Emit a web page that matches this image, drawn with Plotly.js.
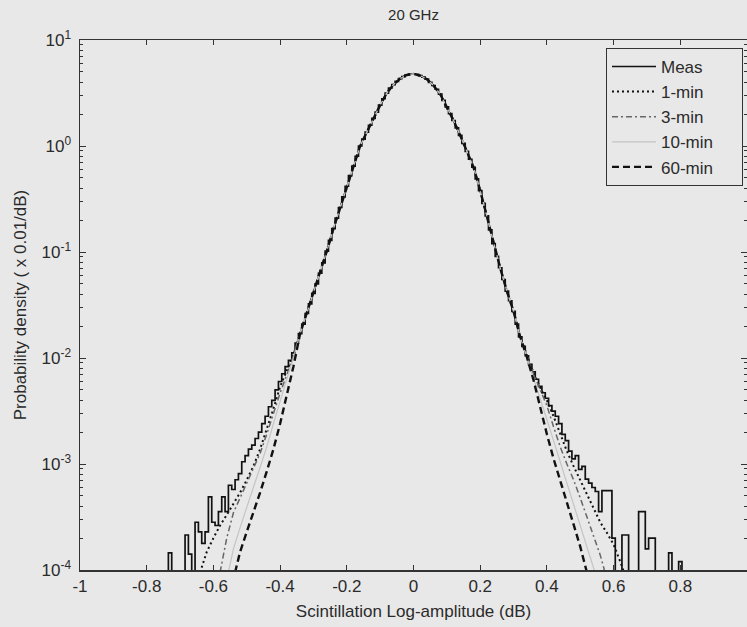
<!DOCTYPE html>
<html>
<head>
<meta charset="utf-8">
<script src="https://cdn.plot.ly/plotly-3.0.1.min.js"></script>
<style>
html,body{margin:0;padding:0;background:#e8e8e8;}
#chart{width:747px;height:627px;}
</style>
</head>
<body>
<div id="chart"></div>
<script>
// ---- Data (probability density, x0.01/dB) ----
// Measured histogram: bin centres (dB) and densities. 1e-6 marks an empty bin (drawn below the axis).
var measX = [-0.75,-0.74,-0.73,-0.72,-0.71,-0.70,-0.69,-0.68,-0.67,-0.66,-0.65,-0.64,-0.63,-0.62,-0.61,-0.60,-0.59,-0.58,-0.57,-0.56,-0.55,-0.54,-0.53,-0.52,-0.51,-0.50,-0.49,-0.48,-0.47,-0.46,-0.45,-0.44,-0.43,-0.42,-0.41,-0.40,-0.39,-0.38,-0.37,-0.36,-0.35,-0.34,-0.33,-0.32,-0.31,-0.30,-0.29,-0.28,-0.27,-0.26,-0.25,-0.24,-0.23,-0.22,-0.21,-0.20,-0.19,-0.18,-0.17,-0.16,-0.15,-0.14,-0.13,-0.12,-0.11,-0.10,-0.09,-0.08,-0.07,-0.06,-0.05,-0.04,-0.03,-0.02,-0.01,0.00,0.01,0.02,0.03,0.04,0.05,0.06,0.07,0.08,0.09,0.10,0.11,0.12,0.13,0.14,0.15,0.16,0.17,0.18,0.19,0.20,0.21,0.22,0.23,0.24,0.25,0.26,0.27,0.28,0.29,0.30,0.31,0.32,0.33,0.34,0.35,0.36,0.37,0.38,0.39,0.40,0.41,0.42,0.43,0.44,0.45,0.46,0.47,0.48,0.49,0.50,0.51,0.52,0.53,0.54,0.55,0.56,0.57,0.58,0.59,0.60,0.61,0.62,0.63,0.64,0.65,0.66,0.67,0.68,0.69,0.70,0.71,0.72,0.73,0.74,0.75,0.76,0.77,0.78,0.79,0.80,0.81];
var measY = [1e-6,1e-6,1.45e-4,1e-6,1e-6,1e-6,1e-6,2.14e-4,1.41e-4,1e-6,2.82e-4,2.29e-4,1.78e-4,2.29e-4,4.9e-4,2.82e-4,2.63e-4,3.55e-4,4.9e-4,3.55e-4,6.3e-4,5.75e-4,7.1e-4,8.1e-4,1.05e-3,1.2e-3,1.38e-3,1.51e-3,1.74e-3,2.0e-3,2.4e-3,2.82e-3,3.47e-3,3.98e-3,5.0e-3,6.0e-3,7.1e-3,8.3e-3,9.5e-3,1.12e-2,1.38e-2,1.70e-2,2.09e-2,2.63e-2,3.24e-2,4.07e-2,5.0e-2,6.3e-2,7.9e-2,0.102,0.129,0.166,0.209,0.263,0.331,0.417,0.525,0.646,0.80,1.0,1.16,1.35,1.57,1.82,2.09,2.43,2.79,3.16,3.51,3.80,4.07,4.32,4.52,4.68,4.76,4.79,4.75,4.62,4.47,4.27,3.98,3.72,3.43,3.09,2.69,2.34,2.02,1.74,1.48,1.26,1.06,0.89,0.75,0.63,0.49,0.38,0.288,0.219,0.162,0.120,0.091,0.071,0.055,0.0427,0.0347,0.0275,0.0209,0.0158,0.0129,0.0105,8.7e-3,7.4e-3,6.3e-3,5.4e-3,4.7e-3,4.17e-3,3.55e-3,3.16e-3,2.82e-3,2.4e-3,1.9e-3,1.66e-3,1.32e-3,1.12e-3,1.2e-3,8.9e-4,9.5e-4,7.2e-4,6.6e-4,6.0e-4,5.5e-4,3.55e-4,5.6e-4,5.6e-4,5.6e-4,2.0e-4,1e-6,1e-6,2.14e-4,2.14e-4,1e-6,1e-6,1e-6,3.55e-4,3.55e-4,1.58e-4,2.0e-4,2.0e-4,1e-6,1e-6,1e-6,1e-6,1.45e-4,1e-6,1e-6,1.2e-4,1e-6];

// Model curves: common core (all models overlap here) plus each model's own tails
var coreX = [-0.34,-0.32,-0.30,-0.28,-0.26,-0.24,-0.22,-0.20,-0.18,-0.16,-0.14,-0.12,-0.10,-0.08,-0.06,-0.04,-0.02,0.00,0.02,0.04,0.06,0.08,0.10,0.12,0.14,0.16,0.18,0.20,0.22,0.24,0.26,0.28,0.30,0.32];
var coreY = [1.70e-2,2.63e-2,4.07e-2,6.31e-2,0.102,0.166,0.263,0.417,0.646,1.00,1.35,1.82,2.43,3.16,3.80,4.32,4.68,4.79,4.62,4.27,3.72,3.09,2.34,1.74,1.26,0.891,0.631,0.380,0.219,0.120,0.0708,0.0427,0.0275,0.0158];

var min1LeftX  = [-0.64,-0.62,-0.60,-0.58,-0.56,-0.54,-0.52,-0.50,-0.48,-0.46,-0.44,-0.42,-0.40,-0.38,-0.36];
var min1LeftY  = [9.5e-5,1.48e-4,2.0e-4,2.63e-4,3.31e-4,4.17e-4,5.37e-4,7.08e-4,9.55e-4,1.38e-3,2.09e-3,3.31e-3,5.37e-3,7.59e-3,1.07e-2];
var min1RightX = [0.34,0.36,0.38,0.40,0.42,0.44,0.46,0.48,0.50,0.52,0.54,0.56,0.58,0.60,0.62,0.64];
var min1RightY = [1.05e-2,7.24e-3,5.25e-3,3.98e-3,2.82e-3,1.91e-3,1.32e-3,9.55e-4,7.08e-4,5.25e-4,3.80e-4,2.82e-4,2.24e-4,1.74e-4,1.20e-4,7.9e-5];

var min3LeftX  = [-0.58,-0.56,-0.54,-0.52,-0.50,-0.48,-0.46,-0.44,-0.42,-0.40,-0.38,-0.36];
var min3LeftY  = [9.5e-5,2.0e-4,3.47e-4,4.79e-4,6.61e-4,8.91e-4,1.26e-3,1.91e-3,3.02e-3,4.68e-3,6.92e-3,1.05e-2];
var min3RightX = [0.34,0.36,0.38,0.40,0.42,0.44,0.46,0.48,0.50,0.52,0.54,0.56,0.575];
var min3RightY = [1.05e-2,7.08e-3,5.01e-3,3.55e-3,2.24e-3,1.45e-3,1.0e-3,7.08e-4,4.79e-4,3.16e-4,2.09e-4,1.38e-4,9.3e-5];

var min10LeftX  = [-0.555,-0.54,-0.52,-0.50,-0.48,-0.46,-0.44,-0.42,-0.40,-0.38,-0.36];
var min10LeftY  = [9.5e-5,1.58e-4,2.51e-4,3.98e-4,6.03e-4,9.33e-4,1.45e-3,2.40e-3,3.98e-3,6.31e-3,1.0e-2];
var min10RightX = [0.34,0.36,0.38,0.40,0.42,0.44,0.46,0.48,0.50,0.52,0.545];
var min10RightY = [1.02e-2,6.61e-3,4.17e-3,2.63e-3,1.66e-3,1.05e-3,6.61e-4,4.17e-4,2.63e-4,1.66e-4,9.3e-5];

var min60LeftX  = [-0.535,-0.52,-0.50,-0.48,-0.46,-0.44,-0.42,-0.40,-0.38,-0.36];
var min60LeftY  = [9.5e-5,1.48e-4,2.29e-4,3.47e-4,5.37e-4,8.51e-4,1.38e-3,2.40e-3,4.37e-3,8.32e-3];
var min60RightX = [0.34,0.36,0.38,0.40,0.42,0.44,0.46,0.48,0.50,0.52];
var min60RightY = [1.02e-2,6.17e-3,3.39e-3,1.91e-3,1.12e-3,7.08e-4,4.37e-4,2.69e-4,1.66e-4,9.5e-5];

var seriesNames = ['Meas','1-min','3-min','10-min','60-min'];
var xTickVals = [-1,-0.8,-0.6,-0.4,-0.2,0,0.2,0.4,0.6,0.8];
var xTickText = ['-1','-0.8','-0.6','-0.4','-0.2','0','0.2','0.4','0.6','0.8'];
var yTickVals = [1e-4,1e-3,1e-2,1e-1,1,10];
var yTickText = ['10<sup>-4</sup>','10<sup>-3</sup>','10<sup>-2</sup>','10<sup>-1</sup>','10<sup>0</sup>','10<sup>1</sup>'];

// ---- Build traces ----
function model(lx, ly, rx, ry){
  return {x: lx.concat(coreX, rx), y: ly.concat(coreY, ry)};
}
var m1 = model(min1LeftX, min1LeftY, min1RightX, min1RightY);
var m3 = model(min3LeftX, min3LeftY, min3RightX, min3RightY);
var m10 = model(min10LeftX, min10LeftY, min10RightX, min10RightY);
var m60 = model(min60LeftX, min60LeftY, min60RightX, min60RightY);

// trailing no-break spaces only widen the legend box to the reference's size
var pad = '\u00a0\u00a0\u00a0\u00a0\u00a0';
var traces = [
  {x: measX, y: measY, name: seriesNames[0], mode: 'lines', line: {color: '#111', width: 1.7, shape: 'hvh'}},
  {x: m1.x, y: m1.y, name: seriesNames[1], mode: 'lines', line: {color: '#111', width: 2, dash: '2px,3px'}},
  {x: m3.x, y: m3.y, name: seriesNames[2], mode: 'lines', line: {color: '#666', width: 1.5, dash: '6px,3px,2px,3px'}},
  {x: m10.x, y: m10.y, name: seriesNames[3] + pad, mode: 'lines', line: {color: '#c4c4c4', width: 1.2}},
  {x: m60.x, y: m60.y, name: seriesNames[4], mode: 'lines', line: {color: '#111', width: 2.4, dash: '7px,4px'}}
];

var ink = '#2b2b2b';
var minorVals = [];
[1e-4,1e-3,1e-2,1e-1,1].forEach(function(d){ for (var k=2;k<=9;k++) minorVals.push(k*d); });

var layout = {
  width: 747, height: 627,
  paper_bgcolor: '#e8e8e8', plot_bgcolor: '#e8e8e8',
  margin: {l: 80, r: 0, t: 40, b: 57},
  font: {family: 'Liberation Sans, Arial, sans-serif', size: 17, color: ink},
  title: {text: '20 GHz', x: 0.5, xref: 'paper', y: 1 - 15/627, yref: 'container', yanchor: 'middle', font: {size: 15, color: ink}},
  showlegend: true,
  legend: {x: 0.994, xanchor: 'right', y: 0.985, yanchor: 'top', bgcolor: '#e8e8e8', bordercolor: '#333', borderwidth: 1, itemwidth: 44, font: {size: 17, color: ink}, tracegroupgap: 0},
  xaxis: {
    range: [-1, 1], showgrid: false, zeroline: false,
    showline: true, linecolor: '#333', linewidth: 1.5, mirror: 'ticks',
    ticks: 'inside', ticklen: 5, tickcolor: '#333', tickwidth: 1,
    tickmode: 'array', tickvals: xTickVals, ticktext: xTickText, tickfont: {size: 17},
    title: {text: 'Scintillation Log-amplitude (dB)', standoff: 10, font: {size: 17, color: ink}}
  },
  yaxis: {
    type: 'log', range: [-4, 1], showgrid: false, zeroline: false,
    showline: true, linecolor: '#333', linewidth: 1.5, mirror: 'ticks',
    ticks: 'inside', ticklen: 6, tickcolor: '#333', tickwidth: 1,
    tickmode: 'array', tickvals: yTickVals, ticktext: yTickText, tickfont: {size: 17},
    ticklabelstandoff: 4,
    minor: {tickmode: 'array', tickvals: minorVals, ticks: 'inside', ticklen: 3, tickcolor: '#333', showgrid: false},
    title: {text: 'Probability density ( x 0.01/dB)', standoff: 10, font: {size: 17, color: ink}}
  }
};

Plotly.newPlot('chart', traces, layout, {displayModeBar: false, staticPlot: true});
</script>
</body>
</html>
